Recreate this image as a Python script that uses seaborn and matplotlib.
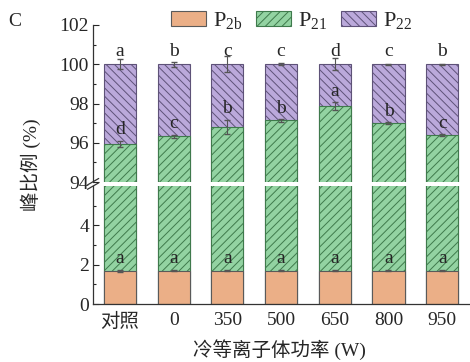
import numpy as np
import pandas as pd
import matplotlib
matplotlib.use("Agg")
import matplotlib.pyplot as plt
from matplotlib.patches import Patch
import seaborn as sns

# données
groups = ["对照", "0", "350", "500", "650", "800", "950"]
p2b = [1.70, 1.70, 1.70, 1.70, 1.70, 1.70, 1.70]
p2b_err = [0.05, 0.03, 0.03, 0.03, 0.03, 0.03, 0.03]
p21_top = [95.95, 96.34, 96.82, 97.14, 97.86, 96.99, 96.38]
p21_err = [0.15, 0.08, 0.35, 0.06, 0.20, 0.05, 0.05]
total = [100, 100, 100, 100, 100, 100, 100]
total_err = [0.25, 0.12, 0.40, 0.06, 0.30, 0.03, 0.02]
letters_top = ["a", "b", "c", "c", "d", "c", "b"]
letters_mid = ["d", "c", "b", "b", "a", "b", "c"]
letters_low = ["a", "a", "a", "a", "a", "a", "a"]

df = pd.DataFrame({"group": groups, "p2b": p2b, "p21_top": p21_top, "total": total})

sns.set_style("ticks")
plt.rcParams["font.family"] = ["Liberation Serif", "Noto Sans CJK SC"]
plt.rcParams["mathtext.fontset"] = "custom"
plt.rcParams["mathtext.rm"] = "Liberation Serif"
plt.rcParams["hatch.linewidth"] = 0.7

c_or, c_gr, c_pu = "#EBAF87", "#93D3A2", "#BBA9DB"
e_or, e_gr, e_pu = "#5a5a5a", "#3f7a4c", "#5e5278"
fs = 14

fig = plt.figure(figsize=(4.70, 3.62), dpi=100)
ax_top = fig.add_axes([0.198, 0.497, 0.80, 0.434])
ax_bot = fig.add_axes([0.198, 0.160, 0.80, 0.326])

for ax in (ax_top, ax_bot):
    sns.barplot(data=df, x="group", y="total", color=c_pu, width=0.6, saturation=1,
                edgecolor=e_pu, linewidth=0.8, hatch="\\\\\\\\", ax=ax)
    sns.barplot(data=df, x="group", y="p21_top", color=c_gr, width=0.6, saturation=1,
                edgecolor=e_gr, linewidth=0.8, hatch="////", ax=ax)
    sns.barplot(data=df, x="group", y="p2b", color=c_or, width=0.6, saturation=1,
                edgecolor=e_or, linewidth=0.8, ax=ax)
    x = np.arange(len(groups))
    ax.errorbar(x, total, yerr=total_err, fmt="none", ecolor="#555555", elinewidth=0.8, capsize=2.5)
    ax.errorbar(x, p21_top, yerr=p21_err, fmt="none", ecolor="#555555", elinewidth=0.8, capsize=2.5)
    ax.errorbar(x, p2b, yerr=p2b_err, fmt="none", ecolor="#555555", elinewidth=0.8, capsize=2.5)
    ax.set_xlim(-0.5, 6.5)
    ax.set_xlabel("")
    ax.set_ylabel("")
    sns.despine(ax=ax)
    ax.tick_params(axis="y", direction="in", labelsize=fs, length=4, width=0.8, pad=3)
    ax.tick_params(axis="y", which="minor", direction="in", length=2.5, width=0.8)
    for s in ax.spines.values():
        s.set_linewidth(0.9)
        s.set_color("#333333")

ax_top.set_ylim(94, 102)
ax_top.set_yticks([94, 96, 98, 100, 102])
ax_top.set_yticks([95, 97, 99, 101], minor=True)
ax_top.spines["bottom"].set_visible(False)
ax_top.tick_params(axis="x", bottom=False, labelbottom=False)

ax_bot.set_ylim(0, 6)
ax_bot.set_yticks([0, 2, 4])
ax_bot.set_yticks([1, 3, 5], minor=True)
ax_bot.tick_params(axis="x", length=0, labelsize=fs, pad=6)

# lettres de significativité
for i in range(len(groups)):
    ax_top.text(i, total[i] + 0.42, letters_top[i], ha="center", va="baseline", fontsize=fs)
    ax_top.text(i, p21_top[i] + p21_err[i] + 0.33, letters_mid[i], ha="center", va="baseline", fontsize=fs)
    ax_bot.text(i, p2b[i] + 0.38, letters_low[i], ha="center", va="baseline", fontsize=fs)

# marques de coupure de l'axe
for dy in (-0.006, 0.006):
    fig.add_artist(plt.Line2D([0.186, 0.210], [0.483 + dy, 0.501 + dy], color="#333333", lw=0.9))

fig.text(0.065, 0.545, "峰比例 (%)", rotation=90, ha="center", va="center", fontsize=fs)
fig.text(0.594, 0.033, "冷等离子体功率 (W)", ha="center", va="center", fontsize=fs)
fig.text(0.032, 0.94, "C", ha="center", va="center", fontsize=fs)

handles = [Patch(facecolor=c_or, edgecolor=e_or, lw=0.8),
           Patch(facecolor=c_gr, edgecolor=e_gr, lw=0.8, hatch="////"),
           Patch(facecolor=c_pu, edgecolor=e_pu, lw=0.8, hatch="\\\\\\\\")]
fig.legend(handles, ["P$_{\\mathrm{2b}}$", "P$_{\\mathrm{21}}$", "P$_{\\mathrm{22}}$"], loc="center",
           bbox_to_anchor=(0.62, 0.942), ncol=3, frameon=False, fontsize=16,
           handlelength=1.6, handleheight=0.72, handletextpad=0.3, columnspacing=0.6)

fig.savefig("out.png", dpi=100)
